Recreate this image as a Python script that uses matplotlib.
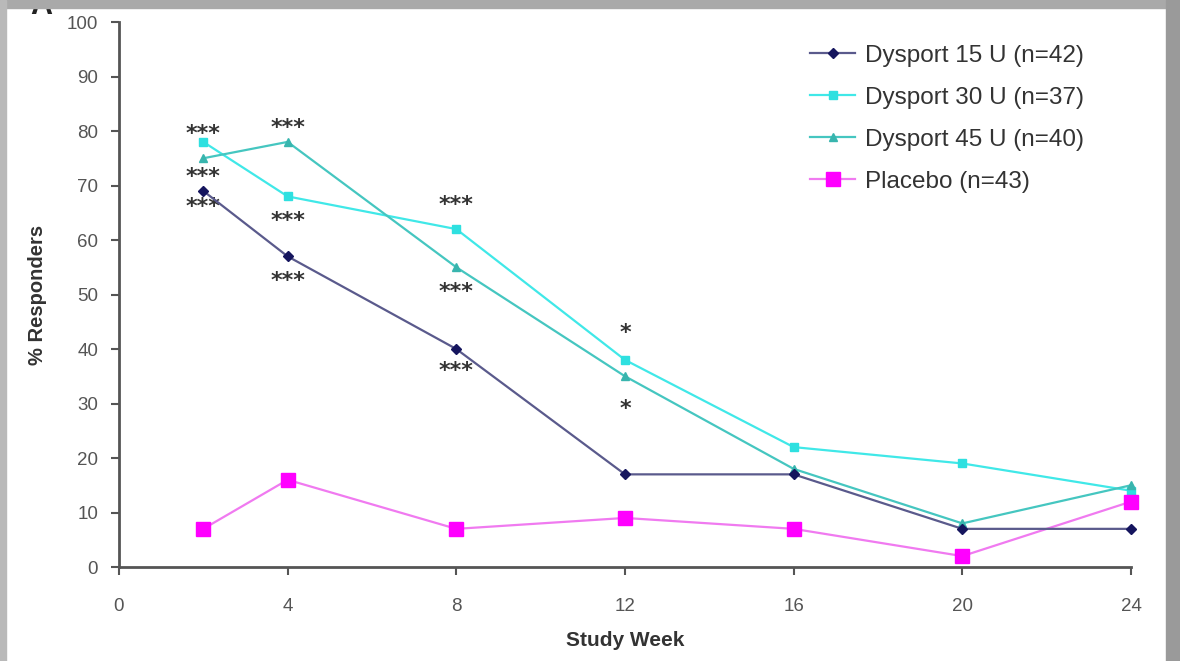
import matplotlib.pyplot as plt
from matplotlib.patches import Rectangle

plt.rcParams['font.family'] = ['Liberation Sans', 'DejaVu Sans']

weeks = [2, 4, 8, 12, 16, 20, 24]
dysport_15 = [69, 57, 40, 17, 17, 7, 7]
dysport_30 = [78, 68, 62, 38, 22, 19, 14]
dysport_45 = [75, 78, 55, 35, 18, 8, 15]
placebo = [7, 16, 7, 9, 7, 2, 12]

labels = ['Dysport 15 U (n=42)', 'Dysport 30 U (n=37)',
          'Dysport 45 U (n=40)', 'Placebo (n=43)']

# significance marks: week, y (% responders), text
star_weeks = [2, 2, 2, 4, 4, 4, 8, 8, 8, 12, 12]
star_y = [79.5, 71.5, 66, 80.5, 63.5, 52.5, 66.5, 50.5, 36, 43, 29]
star_txt = ['***'] * 9 + ['*', '*']

fig = plt.figure(figsize=(11.8, 6.61), dpi=100)
ax = fig.add_axes([0.1008, 0.1422, 0.8577, 0.8245])

ax.plot(weeks, dysport_15, color='#5a5a8c', lw=1.6, marker='D', ms=5,
        mfc='#15155e', mec='#15155e', label=labels[0], zorder=4, clip_on=False)
ax.plot(weeks, dysport_30, color='#40e8e8', lw=1.6, marker='s', ms=6,
        mfc='#2ee0e0', mec='#2ee0e0', label=labels[1], zorder=3, clip_on=False)
ax.plot(weeks, dysport_45, color='#45c6c0', lw=1.6, marker='^', ms=6,
        mfc='#38b5ae', mec='#38b5ae', label=labels[2], zorder=3, clip_on=False)
ax.plot(weeks, placebo, color='#f07af0', lw=1.6, marker='s', ms=10,
        mfc='#ff00ff', mec='#ff00ff', label=labels[3], zorder=3, clip_on=False)

for w, y, t in zip(star_weeks, star_y, star_txt):
    ax.text(w, y, t, ha='center', va='center', fontsize=16,
            fontweight='bold', family='DejaVu Sans', color='#333333')

ax.set_xlim(0, 24)
ax.set_ylim(0, 100)
ax.set_xticks([0, 4, 8, 12, 16, 20, 24])
ax.set_yticks(range(0, 101, 10))
for s in ['top', 'right']:
    ax.spines[s].set_visible(False)
for s in ['left', 'bottom']:
    ax.spines[s].set_color('#555555')
    ax.spines[s].set_linewidth(2)
ax.tick_params(direction='out', length=6, width=1.5, color='#555555',
               labelcolor='#555555', labelsize=13.5)
ax.tick_params(axis='y', pad=9)
ax.tick_params(axis='x', pad=16)
ax.set_ylabel('% Responders', fontsize=14.5, fontweight='bold',
              color='#333333', labelpad=14)
ax.set_xlabel('Study Week', fontsize=15, fontweight='bold',
              color='#333333', labelpad=12)

leg = ax.legend(loc='upper right', bbox_to_anchor=(0.975, 0.998), frameon=False,
                fontsize=17.5, handlelength=1.85, labelspacing=0.82,
                handletextpad=0.4)
for t in leg.get_texts():
    t.set_color('#333333')

# partially visible panel letter and grey frame of the source image
fig.text(0.035, 0.968, 'A', fontsize=22, fontweight='bold', color='#222222',
         ha='center', va='bottom')
fig.patches.append(Rectangle((0, 0.988), 1, 0.012, transform=fig.transFigure,
                             color='#a9a9a9', zorder=10))
fig.patches.append(Rectangle((0, 0), 0.005, 1, transform=fig.transFigure,
                             color='#b9b9b9', zorder=10))
fig.patches.append(Rectangle((0.988, 0), 0.012, 1, transform=fig.transFigure,
                             color='#9a9a9a', zorder=10))

fig.savefig('out.png', dpi=100)
